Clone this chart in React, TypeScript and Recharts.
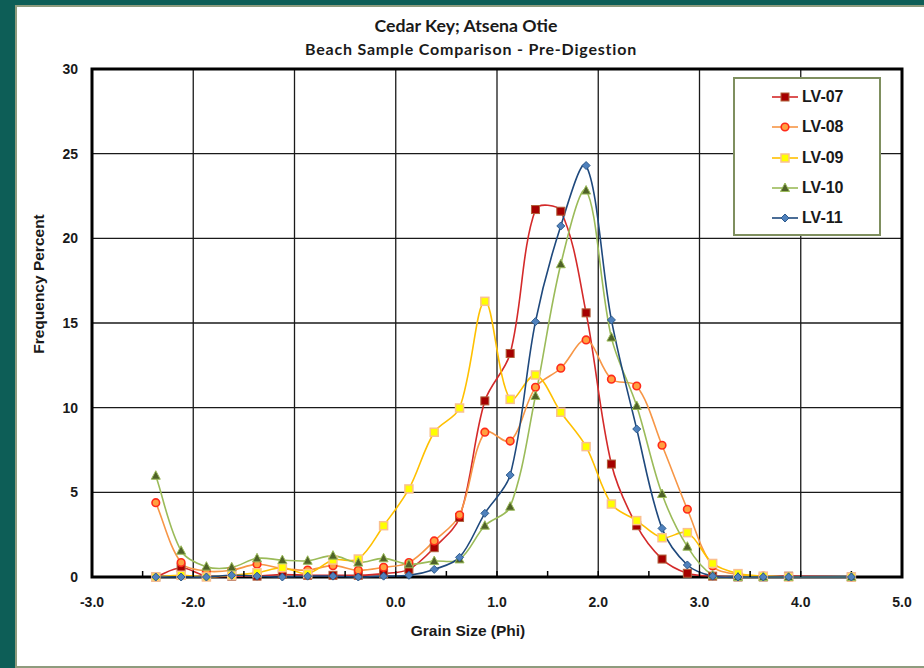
import React from "react";
import {
  LineChart,
  Line,
  XAxis,
  YAxis,
  CartesianGrid,
  ReferenceArea,
} from "recharts";

// grain size (phi) of each sieve fraction
const grainSize = [
  -2.37, -2.12, -1.87, -1.62, -1.37, -1.12, -0.87, -0.62, -0.37, -0.12, 0.13,
  0.38, 0.63, 0.88, 1.13, 1.38, 1.63, 1.88, 2.13, 2.38, 2.63, 2.88, 3.13, 3.38,
  3.63, 3.88, 4.5,
];

const lv07 = [
  0, 0.55, 0.05, 0.05, 0.05, 0.15, 0.1, 0.1, 0.1, 0.2, 0.45, 1.73, 3.52, 10.4,
  13.2, 21.7, 21.6, 15.6, 6.67, 3.03, 1.06, 0.22, 0.05, 0, 0, 0.05, 0,
];
const lv08 = [
  4.39, 0.85, 0.35, 0.4, 0.75, 0.5, 0.41, 0.67, 0.4, 0.57, 0.85, 2.13, 3.66,
  8.55, 8.03, 11.2, 12.33, 14.0, 11.68, 11.28, 7.78, 4.0, 0.65, 0.15, 0.05, 0,
  0,
];
const lv09 = [
  0, 0.1, 0, 0.1, 0.25, 0.55, 0.2, 1.0, 1.06, 3.03, 5.2, 8.55, 9.98, 16.28,
  10.49, 11.93, 9.73, 7.7, 4.31, 3.33, 2.32, 2.62, 0.8, 0.2, 0.05, 0, 0,
];
const lv10 = [
  5.98, 1.55, 0.61, 0.57, 1.1, 1.0, 0.96, 1.26, 0.85, 1.1, 0.75, 0.94, 1.04,
  3.03, 4.15, 10.69, 18.47, 22.82, 14.14, 10.1, 4.9, 1.79, 0.1, 0, 0, 0, 0,
];
const lv11 = [
  0, 0, 0, 0.1, 0.05, 0, 0.05, 0.05, 0, 0.05, 0.1, 0.45, 1.16, 3.76, 6.02,
  15.08, 20.73, 24.3, 15.18, 8.74, 2.87, 0.71, 0.05, 0, 0, 0, 0,
];

const seriesNames = ["LV-07", "LV-08", "LV-09", "LV-10", "LV-11"];
const seriesValues = [lv07, lv08, lv09, lv10, lv11];

const xTicks = [-3, -2, -1, 0, 1, 2, 3, 4, 5];
const xMinorTicks = [-3, -2.5, -2, -1.5, -1, -0.5, 0, 0.5, 1, 1.5, 2, 2.5, 3, 3.5, 4, 4.5, 5];
const yTicks = [0, 5, 10, 15, 20, 25, 30];
const yMinorTicks = Array.from({ length: 31 }, (_, i) => i);

const styles = [
  { line: "#d42a2a", marker: "square" },
  { line: "#f79646", marker: "circle" },
  { line: "#ffc000", marker: "ysquare" },
  { line: "#9bbb59", marker: "triangle" },
  { line: "#1f497d", marker: "diamond" },
];

const data = grainSize.map((x, i) => {
  const row: Record<string, number> = { x };
  seriesNames.forEach((n, s) => (row[n] = seriesValues[s][i]));
  return row;
});

// Excel-like smoothed line: tangents scaled by the length of the neighbouring segments
function excelSmooth(context: any) {
  let pts: number[][] = [];
  const dist = (a: number[], b: number[]) => Math.hypot(b[0] - a[0], b[1] - a[1]);
  return {
    areaStart() {},
    areaEnd() {},
    lineStart() {
      pts = [];
    },
    point(x: number, y: number) {
      pts.push([+x, +y]);
    },
    lineEnd() {
      if (!pts.length) return;
      context.moveTo(pts[0][0], pts[0][1]);
      for (let i = 0; i < pts.length - 1; i++) {
        const p0 = pts[i - 1] || pts[i];
        const p1 = pts[i];
        const p2 = pts[i + 1];
        const p3 = pts[i + 2] || p2;
        const d01 = dist(p0, p1);
        const d12 = dist(p1, p2);
        const d23 = dist(p2, p3);
        const f1 = d01 + d12 > 0 ? d12 / (d01 + d12) / 3 : 0;
        const f2 = d12 + d23 > 0 ? d12 / (d12 + d23) / 3 : 0;
        context.bezierCurveTo(
          p1[0] + (p2[0] - p0[0]) * f1,
          p1[1] + (p2[1] - p0[1]) * f1,
          p2[0] - (p3[0] - p1[0]) * f2,
          p2[1] - (p3[1] - p1[1]) * f2,
          p2[0],
          p2[1]
        );
      }
    },
  };
}

function Marker({ kind, cx, cy }: { kind: string; cx: number; cy: number }) {
  if (cx == null || cy == null) return null;
  switch (kind) {
    case "square":
      return <rect x={cx - 4} y={cy - 4} width={8} height={8} fill="#a50000" stroke="#b0603a" strokeWidth={1} />;
    case "circle":
      return <circle cx={cx} cy={cy} r={3.8} fill="#ffa040" stroke="#ff2a1a" strokeWidth={1.6} />;
    case "ysquare":
      return <rect x={cx - 4} y={cy - 4} width={8} height={8} fill="#ffff00" stroke="#fac090" strokeWidth={1.5} />;
    case "triangle":
      return (
        <polygon
          points={`${cx},${cy - 5} ${cx - 4.5},${cy + 3.5} ${cx + 4.5},${cy + 3.5}`}
          fill="#4f6228"
          stroke="#9bbb59"
          strokeWidth={1}
        />
      );
    default:
      return (
        <polygon
          points={`${cx},${cy - 4} ${cx + 4},${cy} ${cx},${cy + 4} ${cx - 4},${cy}`}
          fill="#4f81bd"
          stroke="#2c5a8c"
          strokeWidth={1}
        />
      );
  }
}

const tickStyle = {
  fontFamily: "'Liberation Sans', Arial, sans-serif",
  fontWeight: 700,
  fontSize: 14,
  fill: "#1a1a1a",
};

const axisTitle = {
  position: "absolute" as const,
  whiteSpace: "nowrap" as const,
  fontFamily: "'Liberation Sans', Arial, sans-serif",
  fontWeight: 700,
  fontSize: 15.5,
  color: "#1a1a1a",
};

const noLabel = () => <g />;

export default function App() {
  return (
    <div
      style={{
        position: "absolute",
        left: 0,
        top: 0,
        width: 924,
        height: 668,
        background: "#0d5e57",
        overflow: "hidden",
      }}
    >
      <div
        style={{
          position: "absolute",
          left: 15,
          top: 5,
          width: 920,
          height: 663,
          background: "#fff",
          border: "2px solid #8e9b7d",
          boxSizing: "border-box",
        }}
      />
      <div
        style={{
          position: "absolute",
          left: 0,
          width: 932,
          top: 14,
          textAlign: "center",
          fontFamily: "Lato, sans-serif",
          fontWeight: 700,
          color: "#1a1a1a",
        }}
      >
        <div style={{ fontSize: 17.7, lineHeight: "24px" }}>Cedar Key; Atsena Otie</div>
        <div style={{ fontSize: 16, lineHeight: "22px", letterSpacing: 0.8, paddingLeft: 10 }}>
          Beach Sample Comparison - Pre-Digestion
        </div>
      </div>

      <div style={{ position: "absolute", left: 0, top: 0 }}>
        <LineChart
          width={924}
          height={668}
          data={data}
          margin={{ top: 69, right: 22, bottom: 61, left: 32 }}
        >
          <CartesianGrid stroke="#1a1a1a" strokeWidth={1.3} />
          <XAxis
            type="number"
            dataKey="x"
            domain={[-3, 5]}
            ticks={xTicks}
            tickFormatter={(v: number) => v.toFixed(1)}
            tick={tickStyle}
            tickSize={0}
            tickMargin={20}
            axisLine={false}
            height={30}
          />
          <XAxis
            xAxisId="minor"
            type="number"
            dataKey="x"
            domain={[-3, 5]}
            ticks={xMinorTicks}
            mirror
            tick={noLabel}
            tickSize={6}
            tickLine={{ stroke: "#000", strokeWidth: 1.5 }}
            axisLine={false}
          />
          <YAxis
            type="number"
            domain={[0, 30]}
            ticks={yTicks}
            tick={tickStyle}
            tickSize={0}
            tickMargin={14}
            axisLine={false}
            width={60}
          />
          <YAxis
            yAxisId="minor"
            type="number"
            domain={[0, 30]}
            ticks={yMinorTicks}
            mirror
            tick={noLabel}
            tickSize={6}
            tickLine={{ stroke: "#000", strokeWidth: 1.5 }}
            axisLine={false}
          />
          {seriesNames.map((name, s) => (
            <Line
              key={name}
              dataKey={name}
              type={excelSmooth as any}
              stroke={styles[s].line}
              strokeWidth={1.6}
              isAnimationActive={false}
              activeDot={false}
              dot={(p: any) => (
                <Marker key={`${name}-${p.index}`} kind={styles[s].marker} cx={p.cx} cy={p.cy} />
              )}
            />
          ))}
          <ReferenceArea
            x1={-3}
            x2={5}
            y1={0}
            y2={30}
            fill="none"
            stroke="#000"
            strokeWidth={3}
            fillOpacity={0}
            ifOverflow="visible"
          />
        </LineChart>
      </div>

      {/* axis titles */}
      <div style={{ ...axisTitle, left: 39, top: 284, transform: "translate(-50%, -50%) rotate(-90deg)" }}>
        Frequency Percent
      </div>
      <div style={{ ...axisTitle, left: 468, top: 631, transform: "translate(-50%, -50%)" }}>
        Grain Size (Phi)
      </div>

      {/* legend */}
      <div
        style={{
          position: "absolute",
          left: 733,
          top: 77,
          width: 148,
          height: 159,
          background: "#fff",
          border: "2px solid #7f8f5f",
          boxSizing: "border-box",
        }}
      >
        {seriesNames.map((name, s) => (
          <div
            key={name}
            style={{ position: "absolute", left: 36, top: 8 + s * 30.3, height: 20, display: "flex", alignItems: "center" }}
          >
            <svg width={28} height={20}>
              <line x1={1} y1={10} x2={27} y2={10} stroke={styles[s].line} strokeWidth={1.6} />
              <Marker kind={styles[s].marker} cx={14} cy={10} />
            </svg>
            <span
              style={{
                marginLeft: 3,
                fontFamily: "'Liberation Sans', Arial, sans-serif",
                fontWeight: 700,
                fontSize: 16,
                color: "#1a1a1a",
              }}
            >
              {name}
            </span>
          </div>
        ))}
      </div>
    </div>
  );
}
